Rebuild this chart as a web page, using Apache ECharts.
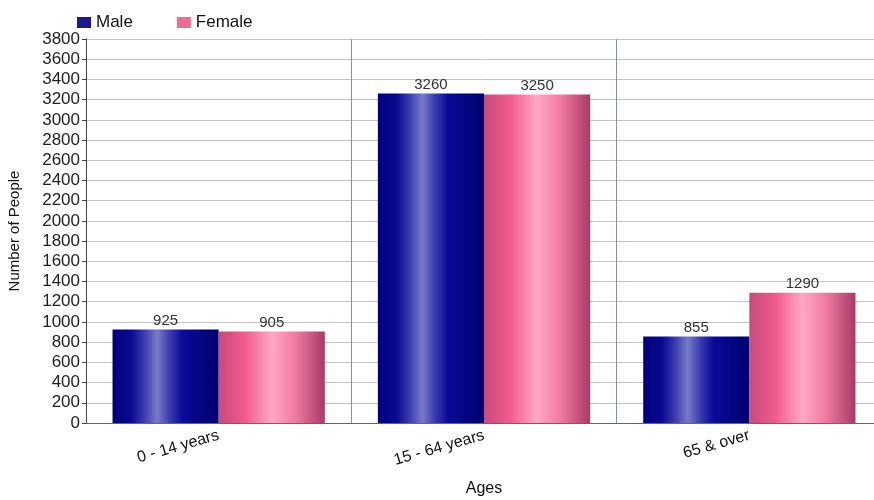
<!DOCTYPE html>
<html><head><meta charset="utf-8">
<script src="https://cdn.jsdelivr.net/npm/echarts@6/dist/echarts.min.js"></script>
<style>html,body{margin:0;padding:0;background:#fff}#c{width:874px;height:500px}</style>
</head><body><div id="c"></div>
<script>
var categories = ['0 - 14 years', '15 - 64 years', '65 & over'];
var maleValues = [925, 3260, 855];
var femaleValues = [905, 3250, 1290];
var yTicks = {min: 0, max: 3800, interval: 200};

function grad(stops){
  return new echarts.graphic.LinearGradient(0,0,1,0,stops.map(function(s){return {offset:s[0],color:s[1]};}));
}
var maleGrad = grad([[0,'#00007e'],[0.18,'#0a0a90'],[0.3,'#3c3cae'],[0.42,'#7a7ac8'],[0.54,'#3a3ab0'],[0.66,'#0a0a98'],[1,'#00006e']]);
var femaleGrad = grad([[0,'#c84a7a'],[0.25,'#f05c8e'],[0.5,'#ffa8c6'],[0.72,'#f27aa0'],[1,'#a83a66']]);

var chart = echarts.init(document.getElementById('c'));
chart.setOption({
  animation: false,
  textStyle: {fontFamily: 'Liberation Sans, Arial, sans-serif'},
  legend: {
    left: 72, top: 9, itemWidth: 14, itemHeight: 11, itemGap: 44, icon: 'rect',
    textStyle: {fontSize: 17, color: '#111'},
    data: [{name:'Male', itemStyle:{color:'#1a1a90'}}, {name:'Female', itemStyle:{color:'#f06a96'}}]
  },
  grid: {left: 86, right: -8, top: 39, bottom: 77, outerBoundsMode: 'none', containLabel: false},
  xAxis: {
    type: 'category', data: categories,
    name: 'Ages', nameLocation: 'middle', nameGap: 58,
    nameTextStyle: {fontSize: 16, color: '#111'},
    axisLine: {lineStyle: {color: '#666'}},
    axisTick: {show: false},
    axisLabel: {rotate: 16, fontSize: 16, color: '#111', margin: 12},
    splitLine: {show: true, lineStyle: {color: '#7f93a6', width: 1}}
  },
  yAxis: {
    type: 'value', min: yTicks.min, max: yTicks.max, interval: yTicks.interval,
    name: 'Number of People', nameLocation: 'middle', nameGap: 64,
    nameTextStyle: {fontSize: 15, color: '#111'},
    axisLine: {show: true, lineStyle: {color: '#444'}},
    axisTick: {show: true, length: 4, lineStyle: {color: '#444'}},
    axisLabel: {fontSize: 17, color: '#222', margin: 6, formatter: function(v){return String(v);}},
    splitLine: {lineStyle: {color: '#c4c4c4', width: 1}}
  },
  series: [
    {name:'Male', type:'bar', data: maleValues, barGap: '0%', barCategoryGap: '20%',
     itemStyle:{color: maleGrad},
     label:{show:true, position:'top', fontSize:15, color:'#333', distance:1}},
    {name:'Female', type:'bar', data: femaleValues,
     itemStyle:{color: femaleGrad},
     label:{show:true, position:'top', fontSize:15, color:'#333', distance:1}}
  ]
});
</script></body></html>
